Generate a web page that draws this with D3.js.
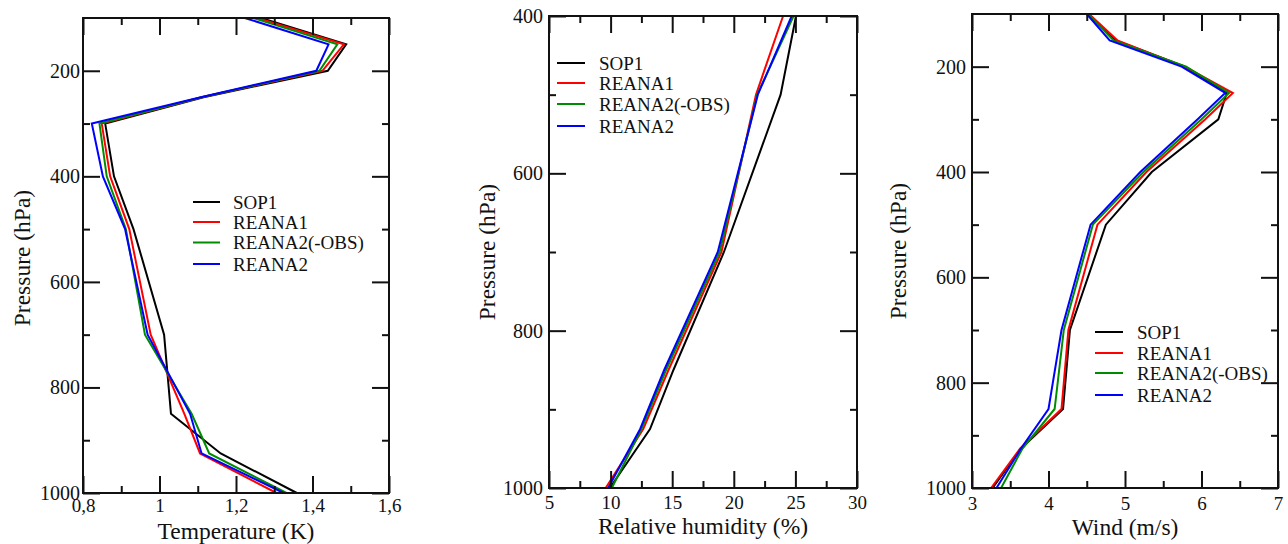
<!DOCTYPE html>
<html lang="en">
<head>
<meta charset="UTF-8">
<title>Profiles</title>
<script src="https://d3js.org/d3.v7.min.js"></script>
<style>
  body { margin: 0; background: #fff; }
  svg text { font-family: "Liberation Serif", "Times New Roman", serif; fill: #111; }
</style>
</head>
<body>
<svg id="chart" width="1288" height="544"></svg>
<script>
// series names and colours
const seriesNames = ["SOP1", "REANA1", "REANA2(-OBS)", "REANA2"];
const seriesColors = ["#000000", "#ff0000", "#008c00", "#0000ff"];

// temperature panel
const tempLevels = [100, 150, 200, 250, 300, 400, 500, 700, 850, 925, 1000];
const tempSOP1   = [1.265, 1.488, 1.440, 1.115, 0.858, 0.881, 0.932, 1.012, 1.030, 1.160, 1.359];
const tempREANA1 = [1.255, 1.482, 1.426, 1.110, 0.849, 0.871, 0.921, 0.977, 1.065, 1.106, 1.306];
const tempREANA2noobs = [1.245, 1.465, 1.418, 1.110, 0.843, 0.862, 0.912, 0.962, 1.084, 1.130, 1.332];
const tempREANA2 = [1.223, 1.442, 1.410, 1.108, 0.823, 0.852, 0.910, 0.969, 1.080, 1.110, 1.325];
const tempTicks = [0.8, 1.0, 1.2, 1.4, 1.6];

// relative humidity panel
const rhLevels = [400, 500, 700, 850, 925, 1000];
const rhSOP1   = [25.05, 23.8, 19.2, 15.1, 13.2, 9.94];
const rhREANA1 = [24.0, 21.8, 19.0, 14.7, 12.65, 9.6];
const rhREANA2noobs = [24.85, 21.9, 18.85, 14.5, 12.5, 10.1];
const rhREANA2 = [24.7, 21.95, 18.7, 14.35, 12.4, 9.8];
const rhTicks = [5, 10, 15, 20, 25, 30];

// wind panel
const windLevels = [100, 150, 200, 250, 300, 400, 500, 700, 850, 925, 1000];
const windSOP1   = [4.52, 4.88, 5.78, 6.33, 6.22, 5.35, 4.75, 4.28, 4.19, 3.64, 3.27];
const windREANA1 = [4.53, 4.90, 5.78, 6.41, 6.05, 5.28, 4.64, 4.26, 4.17, 3.63, 3.25];
const windREANA2noobs = [4.52, 4.85, 5.80, 6.36, 6.00, 5.24, 4.58, 4.20, 4.08, 3.66, 3.38];
const windREANA2 = [4.50, 4.80, 5.74, 6.31, 5.95, 5.20, 4.55, 4.17, 4.00, 3.64, 3.32];
const windTicks = [3, 4, 5, 6, 7];

const presTicks = [200, 400, 600, 800, 1000];
const presTicksRH = [400, 600, 800, 1000];

const svg = d3.select("#chart");

const panels = [
  {
    box: { left: 83, right: 389, top: 18, bottom: 493 },
    xDomain: [0.8, 1.6], yDomain: [100, 1000],
    xTicks: tempTicks, xMinor: [0.9, 1.1, 1.3, 1.5],
    yTicks: presTicks, yMinor: [300, 500, 700, 900],
    levels: tempLevels,
    series: [tempSOP1, tempREANA1, tempREANA2noobs, tempREANA2],
    xTitle: "Temperature (K)", xFmt: d => d3.format(".1~f")(d).replace(".", ","),
    yPad: 3, xPad: 6, xTitleY: 539, yTitleX: 30, yTitleC: 258,
    legend: { x1: 193, x2: 220, tx: 233, ys: [202, 222, 242.5, 264] }
  },
  {
    box: { left: 549, right: 857, top: 16, bottom: 488 },
    xDomain: [5, 30], yDomain: [400, 1000],
    xTicks: rhTicks, xMinor: [7.5, 12.5, 17.5, 22.5, 27.5],
    yTicks: presTicksRH, yMinor: [500, 700, 900],
    levels: rhLevels,
    series: [rhSOP1, rhREANA1, rhREANA2noobs, rhREANA2],
    xTitle: "Relative humidity (%)", xFmt: d => String(d),
    yPad: 6, xPad: 8, xTitleY: 534, yTitleX: 495, yTitleC: 252,
    legend: { x1: 557, x2: 585, tx: 599, ys: [63, 83, 104, 126] }
  },
  {
    box: { left: 972, right: 1278, top: 14, bottom: 488 },
    xDomain: [3, 7], yDomain: [100, 1000],
    xTicks: windTicks, xMinor: [3.5, 4.5, 5.5, 6.5],
    yTicks: presTicks, yMinor: [300, 500, 700, 900],
    levels: windLevels,
    series: [windSOP1, windREANA1, windREANA2noobs, windREANA2],
    xTitle: "Wind (m/s)", xFmt: d => String(d),
    yPad: 6, xPad: 9, xTitleY: 535, yTitleX: 906, yTitleC: 251,
    legend: { x1: 1095, x2: 1123, tx: 1137, ys: [332, 353, 373, 395] }
  }
];

const MAJOR = 17, MINOR = 7;

panels.forEach(p => {
  const b = p.box;
  const x = d3.scaleLinear().domain(p.xDomain).range([b.left, b.right]);
  const y = d3.scaleLinear().domain(p.yDomain).range([b.top, b.bottom]);
  const g = svg.append("g");

  // data lines
  const line = d3.line().x(d => x(d[0])).y(d => y(d[1]));
  p.series.forEach((vals, i) => {
    g.append("path")
      .datum(vals.map((v, k) => [v, p.levels[k]]))
      .attr("d", line)
      .attr("fill", "none")
      .attr("stroke", seriesColors[i])
      .attr("stroke-width", 2)
      .attr("stroke-linejoin", "miter");
  });

  // axes: ticks inward on all sides, labels on bottom and left
  const addAxis = (axisFn, scale, ticks, minor, transform, labels, pad, fmt, fontSize) => {
    const maj = g.append("g").attr("transform", transform)
      .call(axisFn(scale).tickValues(ticks).tickSize(-MAJOR).tickPadding(pad)
        .tickFormat(labels ? fmt : () => ""));
    maj.select(".domain").remove();
    maj.selectAll("line").attr("stroke", "#111").attr("stroke-width", 2);
    maj.selectAll("text").attr("font-size", fontSize).attr("fill", "#111")
      .style("font-family", "'Liberation Serif', serif");
    const mn = g.append("g").attr("transform", transform)
      .call(axisFn(scale).tickValues(minor).tickSize(-MINOR).tickFormat(() => ""));
    mn.select(".domain").remove();
    mn.selectAll("line").attr("stroke", "#111").attr("stroke-width", 2);
  };

  addAxis(d3.axisBottom, x, p.xTicks, p.xMinor, `translate(0,${b.bottom})`, true, p.xPad, p.xFmt, 19);
  addAxis(d3.axisTop, x, p.xTicks, p.xMinor, `translate(0,${b.top})`, false, 0, null, 19);
  addAxis(d3.axisLeft, y, p.yTicks, p.yMinor, `translate(${b.left},0)`, true, p.yPad, d => String(d), 20);
  addAxis(d3.axisRight, y, p.yTicks, p.yMinor, `translate(${b.right},0)`, false, 0, null, 20);

  // frame
  g.append("rect")
    .attr("x", b.left).attr("y", b.top)
    .attr("width", b.right - b.left).attr("height", b.bottom - b.top)
    .attr("fill", "none").attr("stroke", "#111").attr("stroke-width", 2);

  // titles
  g.append("text")
    .attr("x", (b.left + b.right) / 2).attr("y", p.xTitleY)
    .attr("text-anchor", "middle").attr("font-size", 23.5)
    .text(p.xTitle);
  g.append("text")
    .attr("transform", `translate(${p.yTitleX},${p.yTitleC}) rotate(-90)`)
    .attr("text-anchor", "middle").attr("font-size", 23.5)
    .text("Pressure (hPa)");

  // legend
  const L = p.legend;
  seriesNames.forEach((name, i) => {
    g.append("line")
      .attr("x1", L.x1).attr("x2", L.x2).attr("y1", L.ys[i]).attr("y2", L.ys[i])
      .attr("stroke", seriesColors[i]).attr("stroke-width", 2);
    g.append("text")
      .attr("x", L.tx).attr("y", L.ys[i]).attr("dy", "0.35em")
      .attr("font-size", 19)
      .text(name);
  });
});
</script>
</body>
</html>
